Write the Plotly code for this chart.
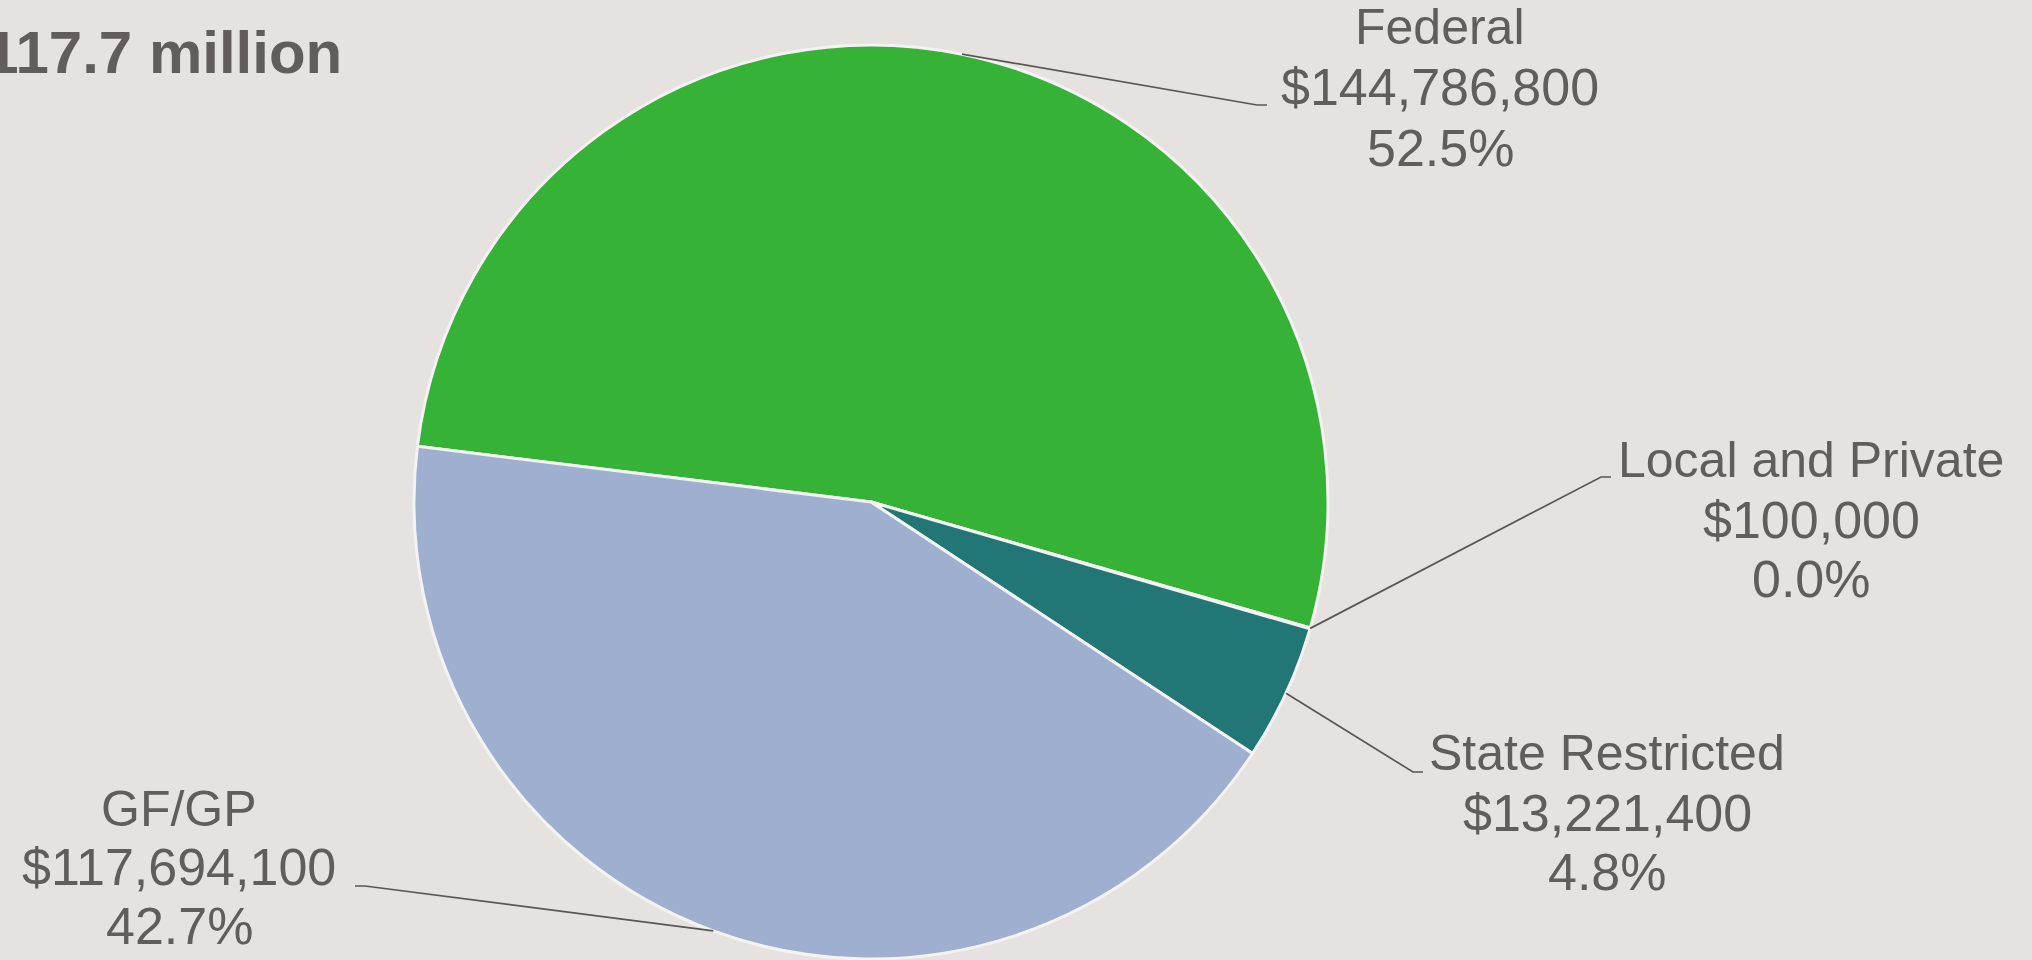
import math
import plotly.graph_objects as go

# ---- data ----
categories = ["Federal", "Local and Private", "State Restricted", "GF/GP"]
amounts = [144786800, 100000, 13221400, 117694100]
title_text = "$117.7 million"

# ---- style / layout ----
W, H = 2032, 960
CX, CY, R = 871, 502, 457          # pie centre and radius in pixels
ROT = 277                          # start angle of first slice (clockwise from 12 o'clock)
slice_colors = ["#36B236", "#4F7F7A", "#237676", "#9FAFD0"]
bg = "#E6E2DF"
txt_col = "#625D5A"
line_col = "#5A5653"
FONT = "Liberation Sans, Arial, sans-serif"
FS_WORD = 50
FS_NUM = 52

label_pos = {
    "Federal": dict(cx=1440, base=[44, 105, 166], elbow=(1257, 105), side=1),
    "Local and Private": dict(cx=1811, base=[477, 538, 597], elbow=(1601, 477), side=1),
    "State Restricted": dict(cx=1607, base=[770, 831, 890], elbow=(1413, 772), side=1),
    "GF/GP": dict(cx=179, base=[826, 885, 944], elbow=(365, 886), side=-1),
}


def px(x):
    return x / W


def py(y):
    return 1 - y / H


fig = go.Figure(go.Pie(
    labels=categories,
    values=amounts,
    sort=False,
    direction="clockwise",
    rotation=ROT,
    textinfo="none",
    hoverinfo="label+value+percent",
    marker=dict(colors=slice_colors, line=dict(color="#F3F3F3", width=3)),
    domain=dict(x=[px(CX - R), px(CX + R)], y=[py(CY + R), py(CY - R)]),
    showlegend=False,
))

total = sum(amounts)
annotations = []
shapes = []
cum = 0
for name, val in zip(categories, amounts):
    mid = ROT + 360 * (cum + val / 2) / total
    cum += val
    a = math.radians(mid)
    sx = CX + R * math.sin(a)
    sy = CY - R * math.cos(a)
    lp = label_pos[name]
    ex, ey = lp["elbow"]
    tx = ex + 10 * lp["side"]
    shapes.append(dict(
        type="path", xref="paper", yref="paper",
        path=f"M {px(sx)} {py(sy)} L {px(ex)} {py(ey)} L {px(tx)} {py(ey)}",
        line=dict(color=line_col, width=1.7),
    ))
    lines = [(name, FS_WORD), (f"${val:,}", FS_NUM), (f"{100 * val / total:.1f}%", FS_NUM)]
    for (t, fs), b in zip(lines, lp["base"]):
        annotations.append(dict(
            x=px(lp["cx"]), y=py(b - 0.3465 * fs), xref="paper", yref="paper",
            xanchor="center", yanchor="middle", showarrow=False, text=t,
            font=dict(family=FONT, size=fs, color=txt_col),
        ))

annotations.append(dict(
    x=px(344), y=py(73 - 0.3465 * 60), xref="paper", yref="paper",
    xanchor="right", yanchor="middle", showarrow=False, text=f"<b>{title_text}</b>",
    font=dict(family=FONT, size=60, color=txt_col),
))

fig.update_layout(
    width=W, height=H, autosize=False,
    margin=dict(l=0, r=0, t=0, b=0),
    paper_bgcolor=bg, plot_bgcolor=bg,
    annotations=annotations, shapes=shapes,
)

fig.write_html("out.html", config={"displayModeBar": False},
               post_script="document.body.style.margin='0';")
